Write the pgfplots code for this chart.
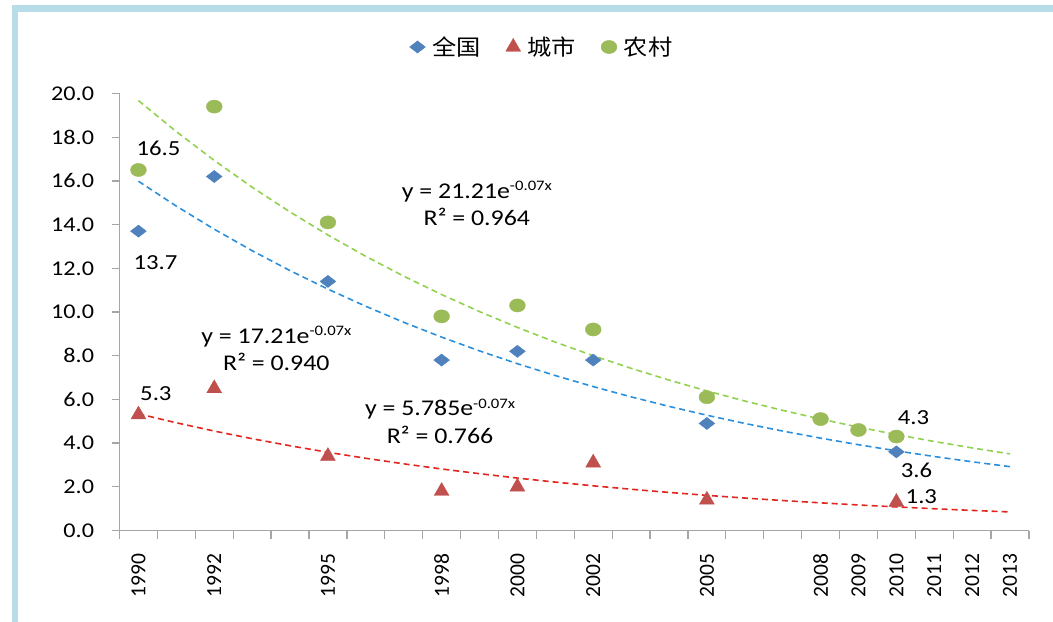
\documentclass[border=0pt]{standalone}
\usepackage{pgfplots}
\pgfplotsset{compat=1.18}
\usepackage{fontspec}
\setmainfont{Carlito}[FakeStretch=1.15]
\newfontfamily\plainfont{Carlito}
\newfontfamily\cjk{Noto Sans CJK SC}[FakeStretch=1.1]
\definecolor{axgray}{HTML}{A6A6A6}
\definecolor{bordercol}{HTML}{B6DDE8}
\definecolor{mblue}{HTML}{4F81BD}
\definecolor{mred}{HTML}{C0504D}
\definecolor{mgreen}{HTML}{9BBB59}
\definecolor{tblue}{HTML}{2A8FDD}
\definecolor{tred}{HTML}{E0261E}
\definecolor{tgreen}{HTML}{92D050}
\begin{document}
\begin{tikzpicture}
\path[use as bounding box] (0,0) rectangle (1053bp,622bp);
\fill[bordercol] (12bp,0bp) rectangle (18bp,617bp);
\fill[bordercol] (12bp,610bp) rectangle (1053bp,617bp);
\begin{axis}[
  at={(119.5bp,91.5bp)}, anchor=south west,
  scale only axis, width=909.5bp, height=437bp,
  xmin=1989.5, xmax=2013.5, ymin=0, ymax=20,
  axis lines*=left,
  axis line style={draw=axgray, line width=1.3bp},
  tick style={draw=axgray, line width=1.3bp},
  tick align=outside, major tick length=8bp,
  xtick={1989.5,1990.5,1991.5,1992.5,1993.5,1994.5,1995.5,1996.5,1997.5,1998.5,1999.5,2000.5,2001.5,2002.5,2003.5,2004.5,2005.5,2006.5,2007.5,2008.5,2009.5,2010.5,2011.5,2012.5,2013.5},
  xticklabels={},
  extra x ticks={1990,1992,1995,1998,2000,2002,2005,2008,2009,2010,2011,2012,2013},
  extra x tick labels={1990,1992,1995,1998,2000,2002,2005,2008,2009,2010,2011,2012,2013},
  extra x tick style={major tick length=0pt, tick style={draw=none},
    xticklabel style={yshift=-20bp, rotate=90, anchor=east, font=\plainfont\fontsize{21.5bp}{21.5bp}\selectfont}},
  ytick={0,2,4,6,8,10,12,14,16,18,20},
  yticklabel style={font=\fontsize{21bp}{21bp}\selectfont, xshift=-14bp,
    /pgf/number format/.cd, fixed, fixed zerofill, precision=1, assume math mode=true},
  clip=false,
  legend columns=3,
  legend style={at={(0.4645,1.1064)}, anchor=center, draw=none, fill=none,
    font=\cjk\fontsize{22bp}{22bp}\selectfont,
    /tikz/every odd column/.append style={column sep=5bp},
    /tikz/every even column/.append style={column sep=23bp}},
  legend image code/.code={\draw plot coordinates {(0bp,0bp)};},
]
% trendlines
\addplot[forget plot, tgreen, line width=1.6bp, dash pattern=on 6bp off 4bp] coordinates {
(1990,19.677)(1991,18.255)(1992,16.936)(1993,15.712)(1994,14.577)(1995,13.524)(1996,12.546)(1997,11.640)(1998,10.799)(1999,10.018)(2000,9.294)(2001,8.623)(2002,8.000)(2003,7.422)(2004,6.885)(2005,6.388)(2006,5.926)(2007,5.498)(2008,5.101)(2009,4.732)(2010,4.390)(2011,4.073)(2012,3.779)(2013,3.506)};
\addplot[forget plot, tblue, line width=1.6bp, dash pattern=on 6bp off 4bp] coordinates {
(1990,15.984)(1991,14.846)(1992,13.788)(1993,12.806)(1994,11.894)(1995,11.047)(1996,10.260)(1997,9.529)(1998,8.850)(1999,8.220)(2000,7.634)(2001,7.091)(2002,6.586)(2003,6.116)(2004,5.681)(2005,5.276)(2006,4.900)(2007,4.551)(2008,4.227)(2009,3.926)(2010,3.646)(2011,3.386)(2012,3.145)(2013,2.921)};
\addplot[forget plot, tred, line width=1.6bp, dash pattern=on 6bp off 4bp] coordinates {
(1990,5.340)(1991,4.930)(1992,4.551)(1993,4.201)(1994,3.878)(1995,3.580)(1996,3.305)(1997,3.051)(1998,2.816)(1999,2.600)(2000,2.400)(2001,2.215)(2002,2.045)(2003,1.888)(2004,1.743)(2005,1.609)(2006,1.485)(2007,1.371)(2008,1.266)(2009,1.168)(2010,1.079)(2011,0.996)(2012,0.919)(2013,0.849)};
% data
\addplot[only marks, mark=square*, mark size=4.3bp, mark options={draw=mblue, fill=mblue, xscale=1.3, rotate=45}] coordinates {
(1990,13.7)(1992,16.2)(1995,11.4)(1998,7.8)(2000,8.2)(2002,7.8)(2005,4.9)(2010,3.6)};
\addlegendentry{全国}
\addplot[only marks, mark=triangle*, mark size=8.6bp, mark options={draw=mred, fill=mred}] coordinates {
(1990,5.3)(1992,6.5)(1995,3.4)(1998,1.8)(2000,2.0)(2002,3.1)(2005,1.4)(2010,1.3)};
\addlegendentry{城市}
\addplot[only marks, mark=*, mark size=6.6bp, mark options={draw=mgreen, fill=mgreen, xscale=1.2}] coordinates {
(1990,16.5)(1992,19.4)(1995,14.1)(1998,9.8)(2000,10.3)(2002,9.2)(2005,6.1)(2008,5.1)(2009,4.6)(2010,4.3)};
\addlegendentry{农村}
% data labels
\begin{scope}[every node/.style={font=\fontsize{21.5bp}{27.5bp}\selectfont, inner sep=0pt}]
\node at (axis cs:1990.53,17.5) {16.5};
\node at (axis cs:1990.45,12.24) {13.7};
\node at (axis cs:1990.46,6.25) {5.3};
\node at (axis cs:2010.45,5.15) {4.3};
\node at (axis cs:2010.53,2.74) {3.6};
\node at (axis cs:2010.66,1.53) {1.3};
\end{scope}
\begin{scope}[every node/.style={font=\fontsize{22.5bp}{27.5bp}\selectfont, inner sep=0pt}]
\node[align=center] at (axis cs:1998.93,14.97) {y = 21.21e{\fontsize{14.5bp}{14.5bp}\selectfont\raisebox{7.5bp}{-0.07x}}\\R² = 0.964};
\node[align=center] at (axis cs:1993.64,8.33) {y = 17.21e{\fontsize{14.5bp}{14.5bp}\selectfont\raisebox{7.5bp}{-0.07x}}\\R² = 0.940};
\node[align=center] at (axis cs:1997.96,5.01) {y = 5.785e{\fontsize{14.5bp}{14.5bp}\selectfont\raisebox{7.5bp}{-0.07x}}\\R² = 0.766};
\end{scope}
\end{axis}
\end{tikzpicture}
\end{document}
